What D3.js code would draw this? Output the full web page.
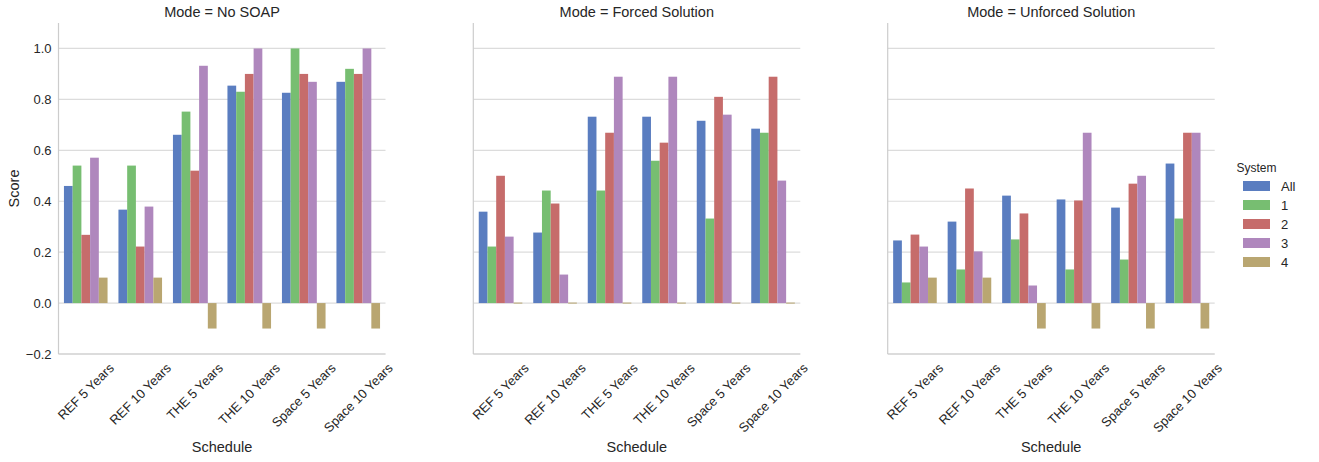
<!DOCTYPE html>
<html>
<head>
<meta charset="utf-8">
<script src="https://cdn.jsdelivr.net/npm/d3@7"></script>
<style>
  body{margin:0;background:#fff;}
  text{font-family:"Liberation Sans",Arial,sans-serif;fill:#262626;}
</style>
</head>
<body>
<svg id="chart" width="1319" height="462"></svg>
<script>
// data
const modes=["No SOAP","Forced Solution","Unforced Solution"];
const schedules=["REF 5 Years","REF 10 Years","THE 5 Years","THE 10 Years","Space 5 Years","Space 10 Years"];
const systems=["All","1","2","3","4"];
const yTicks=[-0.2,0.0,0.2,0.4,0.6,0.8,1.0];

// rows = schedule, cols = system (All,1,2,3,4)
const noSoap=[
  [0.46,0.54,0.268,0.571,0.1],
  [0.367,0.54,0.222,0.379,0.1],
  [0.661,0.752,0.52,0.932,-0.1],
  [0.854,0.83,0.9,1.0,-0.1],
  [0.826,1.0,0.9,0.869,-0.1],
  [0.869,0.92,0.9,1.0,-0.1]
];
const forced=[
  [0.359,0.222,0.5,0.261,0],
  [0.277,0.442,0.391,0.112,0],
  [0.732,0.442,0.669,0.889,0],
  [0.732,0.559,0.63,0.889,0],
  [0.716,0.332,0.81,0.74,0],
  [0.685,0.669,0.889,0.481,0]
];
const unforced=[
  [0.246,0.081,0.269,0.222,0.1],
  [0.32,0.132,0.45,0.203,0.1],
  [0.422,0.25,0.352,0.069,-0.1],
  [0.407,0.132,0.403,0.669,-0.1],
  [0.375,0.171,0.469,0.5,-0.1],
  [0.548,0.332,0.669,0.669,-0.1]
];
const panelData=[noSoap,forced,unforced];
const colors=["#5a7dc0","#77be71","#c66c6b","#af87bd","#b9a671"];

let svg=d3.select("#chart");
let axTop=23, axBottom=354;
let panelLeft=[58.5,473.3,887.7], panelW=327;

let yScale=d3.scaleLinear().domain([-0.2,1.1]).range([axBottom,axTop]);
let color=d3.scaleOrdinal().domain(systems).range(colors);

panelData.forEach(function(data,p){
  let x0=panelLeft[p];
  let xScale=d3.scaleBand().domain(schedules).range([x0,x0+panelW]).paddingInner(0.2).paddingOuter(0.1);
  let xSub=d3.scaleBand().domain(systems).range([0,xScale.bandwidth()]);
  let g=svg.append("g");

  // grid
  g.selectAll(".grid").data(yTicks).enter().append("line")
    .attr("x1",x0).attr("x2",x0+panelW)
    .attr("y1",function(d){return yScale(d)}).attr("y2",function(d){return yScale(d)})
    .attr("stroke","#dcdcdc").attr("stroke-width",1.2);

  // spines
  g.append("line").attr("x1",x0).attr("x2",x0).attr("y1",axTop).attr("y2",axBottom)
    .attr("stroke","#cccccc").attr("stroke-width",1.2);
  g.append("line").attr("x1",x0).attr("x2",x0+panelW).attr("y1",axBottom).attr("y2",axBottom)
    .attr("stroke","#cccccc").attr("stroke-width",1.2);

  // bars
  data.forEach(function(row,i){
    g.selectAll(null).data(row).enter().append("rect")
      .attr("x",function(d,j){return xScale(schedules[i])+xSub(systems[j])})
      .attr("width",xSub.bandwidth())
      .attr("y",function(d){return d===0?yScale(0)-0.5:yScale(Math.max(d,0))})
      .attr("height",function(d){return d===0?1:Math.abs(yScale(d)-yScale(0))})
      .attr("fill",function(d,j){return color(systems[j])});
  });

  // title
  g.append("text").attr("x",x0+panelW/2).attr("y",17)
    .attr("text-anchor","middle").style("font-size","14.5px")
    .text("Mode = "+modes[p]);

  // y tick labels only on first panel
  if(p===0){
    g.selectAll(".yt").data(yTicks).enter().append("text")
      .attr("x",x0-7).attr("y",function(d){return yScale(d)})
      .attr("dy","0.35em").attr("text-anchor","end").style("font-size","13px")
      .text(function(d){return d3.format(".1f")(d).replace("-","\u2212")});
    g.append("text").attr("transform","translate(19,"+((axTop+axBottom)/2)+") rotate(-90)")
      .attr("text-anchor","middle").style("font-size","14.5px").text("Score");
  }

  // x tick labels, rotated 45deg, centred on tick
  g.selectAll(".xt").data(schedules).enter().append("text")
    .style("font-size","13px")
    .attr("text-anchor","middle").attr("dy","0.35em")
    .text(function(d){return d})
    .attr("transform",function(d){
      let w=this.getComputedTextLength();
      let h=(w+13)*Math.SQRT1_2;
      return "translate("+(xScale(d)+xScale.bandwidth()/2)+","+(axBottom+7+h/2)+") rotate(-45)";
    });

  g.append("text").attr("x",x0+panelW/2).attr("y",452)
    .attr("text-anchor","middle").style("font-size","14.5px").text("Schedule");
});

// legend
let lg=svg.append("g").attr("transform","translate(1243,0)");
lg.append("text").attr("x",13.5).attr("y",172).attr("text-anchor","middle")
  .style("font-size","12px").text("System");
lg.selectAll("rect").data(systems).enter().append("rect")
  .attr("x",0).attr("y",function(d,i){return 181+i*19})
  .attr("width",27).attr("height",10)
  .attr("fill",function(d){return color(d)});
lg.selectAll(".lt").data(systems).enter().append("text")
  .attr("x",38).attr("y",function(d,i){return 186+i*19}).attr("dy","0.35em")
  .style("font-size","13px").text(function(d){return d});
</script>
</body>
</html>
